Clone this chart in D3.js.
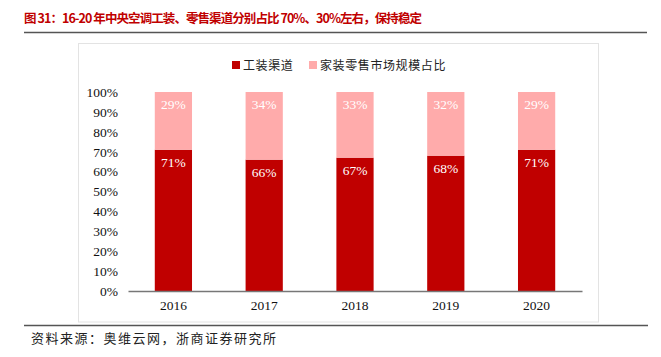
<!DOCTYPE html>
<html><head><meta charset="utf-8">
<script src="https://cdn.jsdelivr.net/npm/d3@7"></script>
<style>
body{margin:0;background:#fff;}
svg{display:block;}
</style></head>
<body>
<svg id="chart" width="661" height="357"></svg>
<script>
const categories = ["2016","2017","2018","2019","2020"];
const seriesNames = ["工装渠道","家装零售市场规模占比"];
const engineering = [71,66,67,68,71];
const retail = [29,34,33,32,29];
const yTicks = [0,10,20,30,40,50,60,70,80,90,100];
const colors = ["#C00000","#FFABAB"];

const svg = d3.select("#chart");
const serif = "'Liberation Serif','Times New Roman',serif";
const cjk = "'Noto Sans CJK SC','Noto Sans',sans-serif";

// title
svg.append("text").attr("x",24).attr("y",23)
  .attr("font-family",cjk).attr("font-weight","bold").attr("font-size",12.5)
  .attr("fill","#C00000").attr("textLength",398).attr("lengthAdjust","spacing")
  .text("图 31：16-20 年中央空调工装、零售渠道分别占比 70%、30%左右，保持稳定");
svg.append("line").attr("x1",24).attr("x2",647).attr("y1",32.5).attr("y2",32.5)
  .attr("stroke","#555").attr("stroke-width",1.5);

// frame
svg.append("rect").attr("x",78.5).attr("y",43.5).attr("width",520).attr("height",278.5)
  .attr("fill","none").attr("stroke","#e3e3e3").attr("stroke-width",1);

// bottom line & source
svg.append("line").attr("x1",24).attr("x2",648).attr("y1",325.5).attr("y2",325.5)
  .attr("stroke","#555").attr("stroke-width",1.5);
svg.append("text").attr("x",31).attr("y",343)
  .attr("font-family",cjk).attr("font-size",13).attr("letter-spacing",1.5)
  .attr("fill","#222").text("资料来源：奥维云网，浙商证券研究所");

// scales
const x = d3.scaleBand().domain(categories).range([128,582]).paddingInner(0.59).paddingOuter(0.295);
const y = d3.scaleLinear().domain([0,100]).range([291,92]);

// stacks
const rows = categories.map((c,i)=>({cat:c, a:engineering[i], b:retail[i]}));
const stack = d3.stack().keys(["a","b"])(rows);

const g = svg.append("g");
stack.forEach((layer,li)=>{
  g.selectAll(null).data(layer).enter().append("rect")
    .attr("x",d=>x(d.data.cat)).attr("width",x.bandwidth())
    .attr("y",d=>y(d[1])).attr("height",d=>y(d[0])-y(d[1]))
    .attr("fill",colors[li]);
  g.selectAll(null).data(layer).enter().append("text")
    .attr("x",d=>x(d.data.cat)+x.bandwidth()/2)
    .attr("y",d=>y(d[1])+17)
    .attr("text-anchor","middle").attr("font-family",serif).attr("font-size",13.5)
    .attr("fill","#fff").text(d=>(d[1]-d[0])+"%");
});

// y axis
const yAxis = d3.axisLeft(y).tickValues(yTicks).tickFormat(d=>d+"%").tickSize(0).tickPadding(0);
const ya = svg.append("g").attr("transform","translate(118,0)").call(yAxis);
ya.select(".domain").remove();
ya.selectAll("text").attr("font-family",serif).attr("font-size",13.5).attr("fill","#111");

// x axis
const xAxis = d3.axisBottom(x).tickSize(0).tickPadding(9);
const xa = svg.append("g").attr("transform","translate(0,291)").call(xAxis);
xa.select(".domain").attr("stroke","#777").attr("stroke-width",1.5);
xa.selectAll("text").attr("font-family",serif).attr("font-size",13.5).attr("fill","#111");

// legend
const legendX = [232,309];
seriesNames.forEach((n,i)=>{
  svg.append("rect").attr("x",legendX[i]).attr("y",61).attr("width",8).attr("height",8).attr("fill",colors[i]);
  svg.append("text").attr("x",legendX[i]+11).attr("y",69.5)
    .attr("font-family",cjk).attr("font-size",12).attr("letter-spacing",0.6)
    .attr("fill","#222").text(n);
});
</script>
</body></html>
